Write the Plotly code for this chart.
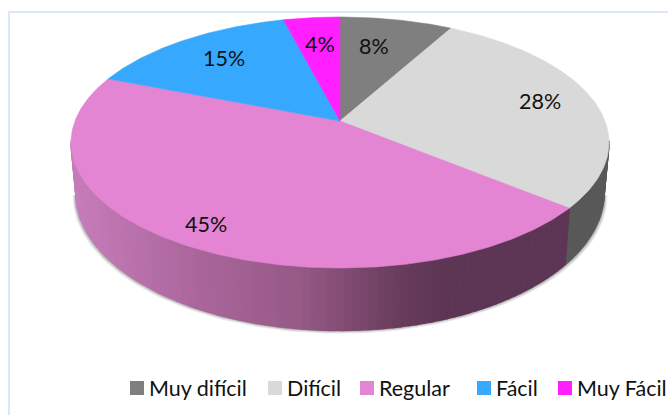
import numpy as np
import plotly.graph_objects as go

# ---------- data ----------
categories = ["Muy difícil", "Difícil", "Regular", "Fácil", "Muy Fácil"]
values = [8, 28, 45, 15, 4]
labels = ["8%", "28%", "45%", "15%", "4%"]
top_colors = ["#7F7F7F", "#D9D9D9", "#E385D2", "#36A9FF", "#FF1FFF"]

# ---------- layout constants (pixel space) ----------
W, H = 668, 415
CX, CY, A, B, K = 340, 121, 265, 121.8, 0.1714
DEPTH, WALL_S = 48, 0.982
FONT = "Lato"
LABEL_NUDGE = [(-7, -1), (22, -4), (-29, 21), (-3, -4), (1, -1)]
LEGEND_SWATCH_X = [137, 275, 367, 484, 565]
LEGEND_Y = 388


def top_xy(theta, r=1.0):
    u, v = r * np.sin(theta), r * np.cos(theta)
    w = 1 + K * v
    return CX + A * u / w, CY - B * v / w


def low_xy(theta, s=WALL_S, extra=0.0):
    u, v = np.sin(theta), np.cos(theta)
    w = 1 + K * v
    return CX + A * s * u / w, CY - B * v / w + DEPTH / w ** 1.4 + extra


def wall_pink(x):
    xs = [72, 200, 300, 400, 445]
    return "rgb(%d,%d,%d)" % tuple(
        np.interp(x, xs, c)
        for c in ([199, 170, 150, 105, 93], [125, 102, 90, 60, 53], [186, 155, 135, 92, 85])
    )


WALL_FN = {1: lambda x: "#595959", 2: wall_pink}

fractions = np.array(values) / sum(values)
edges = np.concatenate([[0], np.cumsum(fractions)]) * 2 * np.pi
fig = go.Figure()


def poly(x, y, color, line=0.6):
    fig.add_trace(go.Scatter(
        x=x, y=y, mode="lines", fill="toself", fillcolor=color,
        line=dict(color=color if line else "rgba(0,0,0,0)", width=line),
        hoverinfo="skip", showlegend=False,
    ))


# soft shadow beneath the side wall
t = np.linspace(np.radians(100), np.radians(260), 120)
for grow, alpha in [(3.2, 0.10), (2.2, 0.14), (1.2, 0.22)]:
    lx, ly = low_xy(t, WALL_S + grow / A, grow)
    poly(lx, ly, f"rgba(40,40,40,{alpha})", line=0)

# side wall strips, only the part that faces the viewer
vis_lo, vis_hi = np.radians(99), np.radians(261)
for i, fn in WALL_FN.items():
    a0, a1 = max(edges[i], vis_lo), min(edges[i + 1], vis_hi)
    n = max(2, int((a1 - a0) / np.radians(1.5)))
    ts = np.linspace(a0, a1, n + 1)
    for t0, t1 in zip(ts[:-1], ts[1:]):
        tt = np.array([t0, t1])
        tx, ty = top_xy(tt)
        bx, by = low_xy(tt)
        poly(np.r_[tx, bx[::-1], tx[0]], np.r_[ty, by[::-1], ty[0]], fn(tx.mean()), line=1.4)

# top face
for i, col in enumerate(top_colors):
    th = np.linspace(edges[i], edges[i + 1], max(8, int(values[i] * 6)))
    ex, ey = top_xy(th)
    poly(np.r_[CX, ex, CX], np.r_[CY, ey, CY], col)

# legend: real text beside each swatch
for name, col, sx in zip(categories, top_colors, LEGEND_SWATCH_X):
    fig.add_trace(go.Scatter(
        x=[sx], y=[LEGEND_Y], mode="markers", name=name,
        marker=dict(symbol="square", size=14, color=col, line=dict(width=0)),
        hoverinfo="name", showlegend=False, cliponaxis=False,
    ))

annotations = [
    dict(x=sx + 10, y=LEGEND_Y, text=name, showarrow=False, xanchor="left", yanchor="middle",
         font=dict(family=FONT, size=21.5, color="#111111"))
    for name, sx in zip(categories, LEGEND_SWATCH_X)
]
for i, lab in enumerate(labels):
    mid = (edges[i] + edges[i + 1]) / 2
    lx, ly = top_xy(mid, 0.7)
    dx, dy = LABEL_NUDGE[i]
    annotations.append(dict(
        x=float(lx) + dx, y=float(ly) + dy, text=lab, showarrow=False,
        font=dict(family=FONT, size=21.5, color="#111111"),
    ))

frame = dict(type="rect", x0=9, y0=12, x1=W + 20, y1=H + 20,
             line=dict(color="#DCE8F7", width=2), fillcolor="rgba(0,0,0,0)", layer="below")

fig.update_layout(
    width=W, height=H, autosize=False,
    margin=dict(l=0, r=0, t=0, b=0),
    paper_bgcolor="white", plot_bgcolor="white",
    xaxis=dict(range=[0, W], visible=False, fixedrange=True),
    yaxis=dict(range=[H, 0], visible=False, fixedrange=True),
    shapes=[frame], annotations=annotations, showlegend=False,
)
fig.write_html(
    "out.html",
    config=dict(displayModeBar=False),
    post_script="document.body.style.margin='0';document.documentElement.style.overflow='hidden';",
)
